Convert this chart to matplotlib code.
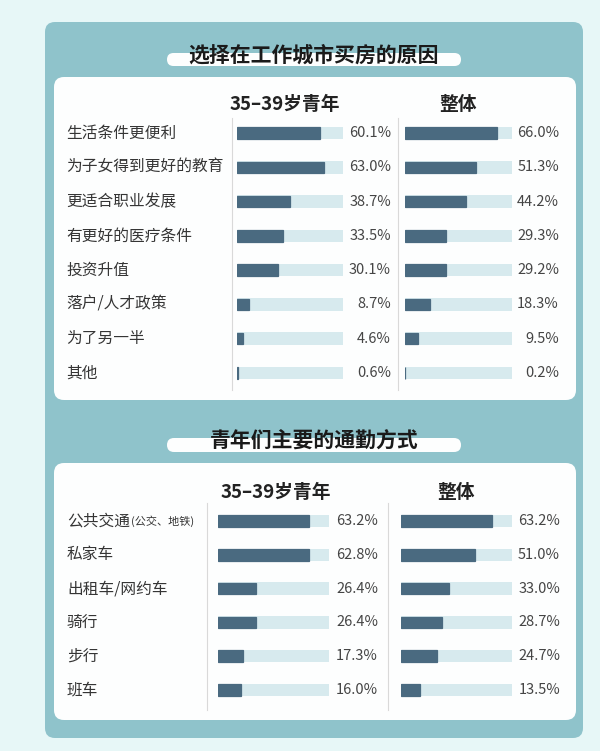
import matplotlib
matplotlib.use("Agg")
import matplotlib.pyplot as plt
from matplotlib.patches import FancyBboxPatch
import matplotlib.transforms as mtransforms

plt.rcParams['font.family'] = ['Noto Sans CJK SC', 'DejaVu Sans']

# ---------------- data ----------------
title1 = "选择在工作城市买房的原因"
reasons = ["生活条件更便利", "为子女得到更好的教育", "更适合职业发展", "有更好的医疗条件",
           "投资升值", "落户/人才政策", "为了另一半", "其他"]
reasons_young = [60.1, 63.0, 38.7, 33.5, 30.1, 8.7, 4.6, 0.6]
reasons_all = [66.0, 51.3, 44.2, 29.3, 29.2, 18.3, 9.5, 0.2]

title2 = "青年们主要的通勤方式"
commute = ["公共交通", "私家车", "出租车/网约车", "骑行", "步行", "班车"]
commute_note = "(公交、地铁)"
commute_young = [63.2, 62.8, 26.4, 26.4, 17.3, 16.0]
commute_all = [63.2, 51.0, 33.0, 28.7, 24.7, 13.5]

col_headers = ["35–39岁青年", "整体"]
TRACK = 77  # visual track length in percent units

# ---------------- style ----------------
W, H = 600, 751
BG = "#e7f7f7"
TEAL = "#8fc3cb"
WHITE = "#fdfefe"
DARK = "#4a6a80"
LIGHT = "#d7eaee"
TXT = "#353535"
VAL = "#454545"
DIV = "#d9d9d9"

fig = plt.figure(figsize=(W / 100, H / 100), dpi=100, facecolor=BG)
bg = fig.add_axes([0, 0, 1, 1])
bg.set_xlim(0, W)
bg.set_ylim(H, 0)
bg.axis("off")
bg.set_facecolor(BG)


def rbox(x0, y0, x1, y1, r, color, z=0):
    p = FancyBboxPatch((x0 + r, y0 + r), (x1 - x0) - 2 * r, (y1 - y0) - 2 * r,
                       boxstyle=f"round,pad={r}", fc=color, ec="none", zorder=z)
    bg.add_patch(p)


# panels
rbox(45, 22, 583, 738, 10, TEAL, 0)
rbox(54, 77, 576, 400, 10, WHITE, 1)
rbox(54, 463, 576, 720, 10, WHITE, 1)

# title pills
rbox(167, 53, 461, 66, 6.5, WHITE, 2)
rbox(167, 438, 461, 452, 7, WHITE, 2)
bg.text(314, 55, title1, ha="center", va="center", fontsize=15, fontweight="bold",
        color="#1a1a1a", zorder=3)
bg.text(314, 441, title2, ha="center", va="center", fontsize=15, fontweight="bold",
        color="#1a1a1a", zorder=3)


def px2fig(x0, y0, x1, y1):
    return [x0 / W, 1 - y1 / H, (x1 - x0) / W, (y1 - y0) / H]


def section(labels, young, allv, top, bottom, cols, dividers, header_y,
            header_x, label_x, note=None):
    n = len(labels)
    axes = []
    for (x0, x1, vx), vals in zip(cols, [young, allv]):
        ax = fig.add_axes(px2fig(x0, top, x1, bottom))
        ax.set_xlim(0, TRACK)
        ax.set_ylim(n - 0.5, -0.5)
        ax.axis("off")
        ax.patch.set_alpha(0)
        ax.set_zorder(3)
        ax.barh(range(n), [TRACK] * n, height=0.36, color=LIGHT)
        ax.barh(range(n), vals, height=0.34, color=DARK, edgecolor=DARK,
                linewidth=0.9)
        tr = mtransforms.blended_transform_factory(bg.transData, ax.transData)
        for i, v in enumerate(vals):
            bg.text(vx, i, f"{v:.1f}%", transform=tr, ha="right", va="center",
                    fontsize=10.5, color=VAL, zorder=4)
        axes.append(ax)
    tr = mtransforms.blended_transform_factory(bg.transData, axes[0].transData)
    for i, lab in enumerate(labels):
        bg.text(label_x, i, lab, transform=tr, ha="left", va="center",
                fontsize=11.3, color=TXT, zorder=4)
    if note is not None:
        bg.text(131, 0, note, transform=tr, ha="left", va="center",
                fontsize=8, color=TXT, zorder=4)
    for dx, (dy0, dy1) in dividers:
        bg.plot([dx, dx], [dy0, dy1], color=DIV, lw=0.8, zorder=2)
    for hx, h in zip(header_x, col_headers):
        bg.text(hx, header_y, h, ha="center", va="center", fontsize=13.5,
                fontweight="bold", color="#222222", zorder=4)


section(reasons, reasons_young, reasons_all, 116, 390,
        [(237, 343, 391), (405, 512, 559)],
        [(232, (118, 390)), (398, (118, 390))],
        105, [285, 458], 66)

section(commute, commute_young, commute_all, 504, 707,
        [(218, 329, 378), (401, 512, 560)],
        [(207, (503, 710)), (388, (503, 710))],
        492, [276, 456], 67, note=commute_note)

fig.savefig("out.png", dpi=100, facecolor=BG)
